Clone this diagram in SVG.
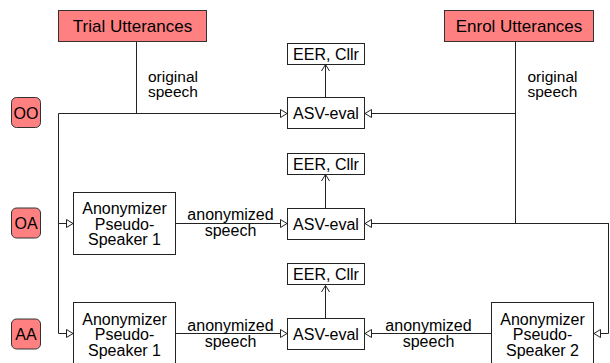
<svg xmlns="http://www.w3.org/2000/svg" width="610" height="363" viewBox="0 0 610 363">
<defs>
<style>
text{font-family:"Liberation Sans",Arial,sans-serif;font-size:16px;fill:#000}
.hd{font-size:17px}
.sm{font-size:15.5px}
.c{text-anchor:middle}
.box{fill:#fff;stroke:#222;stroke-width:1}
.red{fill:#ff8080;stroke:#333;stroke-width:1}
.ln{fill:none;stroke:#222;stroke-width:1}
</style>
<marker id="tri" markerWidth="8" markerHeight="10" refX="7" refY="4.5" orient="auto" markerUnits="userSpaceOnUse">
<path d="M0.5,0.5 L7,4.5 L0.5,8.5 Z" fill="#fff" stroke="#222" stroke-width="1"/>
</marker>
<marker id="open" markerWidth="10" markerHeight="10" refX="7" refY="4.5" orient="auto" markerUnits="userSpaceOnUse">
<path d="M0.5,0.5 L7,4.5 L0.5,8.5" fill="none" stroke="#222" stroke-width="1"/>
</marker>
</defs>
<rect width="610" height="363" fill="#fff"/>
<g id="connectors">
<path class="ln" d="M136.5,41 V113.5"/>
<path class="ln" d="M58.5,113.5 H287" marker-end="url(#tri)"/>
<path class="ln" d="M58.5,113.5 V333.5"/>
<path class="ln" d="M58.5,223.5 H73" marker-end="url(#tri)"/>
<path class="ln" d="M58.5,333.5 H73" marker-end="url(#tri)"/>
<path class="ln" d="M515.5,41 V223.5"/>
<path class="ln" d="M515.5,113.5 H365" marker-end="url(#tri)"/>
<path class="ln" d="M609,223.5 H365" marker-end="url(#tri)"/>
<path class="ln" d="M608.5,223.5 V333.5 H594" marker-end="url(#tri)"/>
<path class="ln" d="M175.5,223.5 H287" marker-end="url(#tri)"/>
<path class="ln" d="M175.5,333.5 H287" marker-end="url(#tri)"/>
<path class="ln" d="M491.5,333.5 H365" marker-end="url(#tri)"/>
<path class="ln" d="M325.5,97 V64.5" marker-end="url(#open)"/>
<path class="ln" d="M325.5,208 V174.5" marker-end="url(#open)"/>
<path class="ln" d="M325.5,318 V285.5" marker-end="url(#open)"/>
<text class="sm" x="148" y="81.5">original</text>
<text class="sm" x="148" y="97">speech</text>
<text class="sm" x="527.5" y="81.5">original</text>
<text class="sm" x="527.5" y="97">speech</text>
<text class="c" x="230.5" y="220">anonymized</text>
<text class="c" x="230.5" y="235.5">speech</text>
<text class="c" x="230.5" y="330.5">anonymized</text>
<text class="c" x="230.5" y="346.5">speech</text>
<text class="c" x="428.5" y="330.5">anonymized</text>
<text class="c" x="428.5" y="346.5">speech</text>
</g>
<g id="trial">
<rect class="red" x="58.5" y="10.5" width="148" height="31"/>
<text class="hd c" x="132.5" y="31.5">Trial Utterances</text>
</g>
<g id="enrol">
<rect class="red" x="444.5" y="10.5" width="149" height="31"/>
<text class="hd c" x="519" y="31.5">Enrol Utterances</text>
</g>
<g id="badge-oo">
<rect class="red" x="11.5" y="97.5" width="29" height="30" rx="5"/>
<text class="c" x="26" y="118.5">OO</text>
</g>
<g id="badge-oa">
<rect class="red" x="11.5" y="208" width="29" height="30" rx="5"/>
<text class="c" x="26" y="229">OA</text>
</g>
<g id="badge-aa">
<rect class="red" x="11.5" y="319" width="29" height="30" rx="5"/>
<text class="c" x="26" y="340">AA</text>
</g>
<g id="eer1">
<rect class="box" x="287.5" y="43.5" width="77" height="21"/>
<text class="c" x="326" y="59.5">EER, Cllr</text>
</g>
<g id="asv1">
<rect class="box" x="287.5" y="97.5" width="77" height="31"/>
<text class="c" x="326" y="119">ASV-eval</text>
</g>
<g id="eer2">
<rect class="box" x="287.5" y="153.5" width="77" height="21"/>
<text class="c" x="326" y="169.5">EER, Cllr</text>
</g>
<g id="asv2">
<rect class="box" x="287.5" y="208.5" width="77" height="31"/>
<text class="c" x="326" y="230">ASV-eval</text>
</g>
<g id="eer3">
<rect class="box" x="287.5" y="263.5" width="77" height="21"/>
<text class="c" x="326" y="279.5">EER, Cllr</text>
</g>
<g id="asv3">
<rect class="box" x="287.5" y="318.5" width="77" height="31"/>
<text class="c" x="326" y="340">ASV-eval</text>
</g>
<g id="anon-oa">
<rect class="box" x="73.5" y="192.5" width="102" height="62"/>
<text class="c" x="124.5" y="214">Anonymizer</text>
<text class="c" x="124.5" y="229.5">Pseudo-</text>
<text class="c" x="124.5" y="245">Speaker 1</text>
</g>
<g id="anon-aa1">
<rect class="box" x="73.5" y="302.5" width="102" height="62"/>
<text class="c" x="124.5" y="324.5">Anonymizer</text>
<text class="c" x="124.5" y="340">Pseudo-</text>
<text class="c" x="124.5" y="355.5">Speaker 1</text>
</g>
<g id="anon-aa2">
<rect class="box" x="491.5" y="302.5" width="102" height="62"/>
<text class="c" x="542.5" y="324.5">Anonymizer</text>
<text class="c" x="542.5" y="340">Pseudo-</text>
<text class="c" x="542.5" y="355.5">Speaker 2</text>
</g>
</svg>
